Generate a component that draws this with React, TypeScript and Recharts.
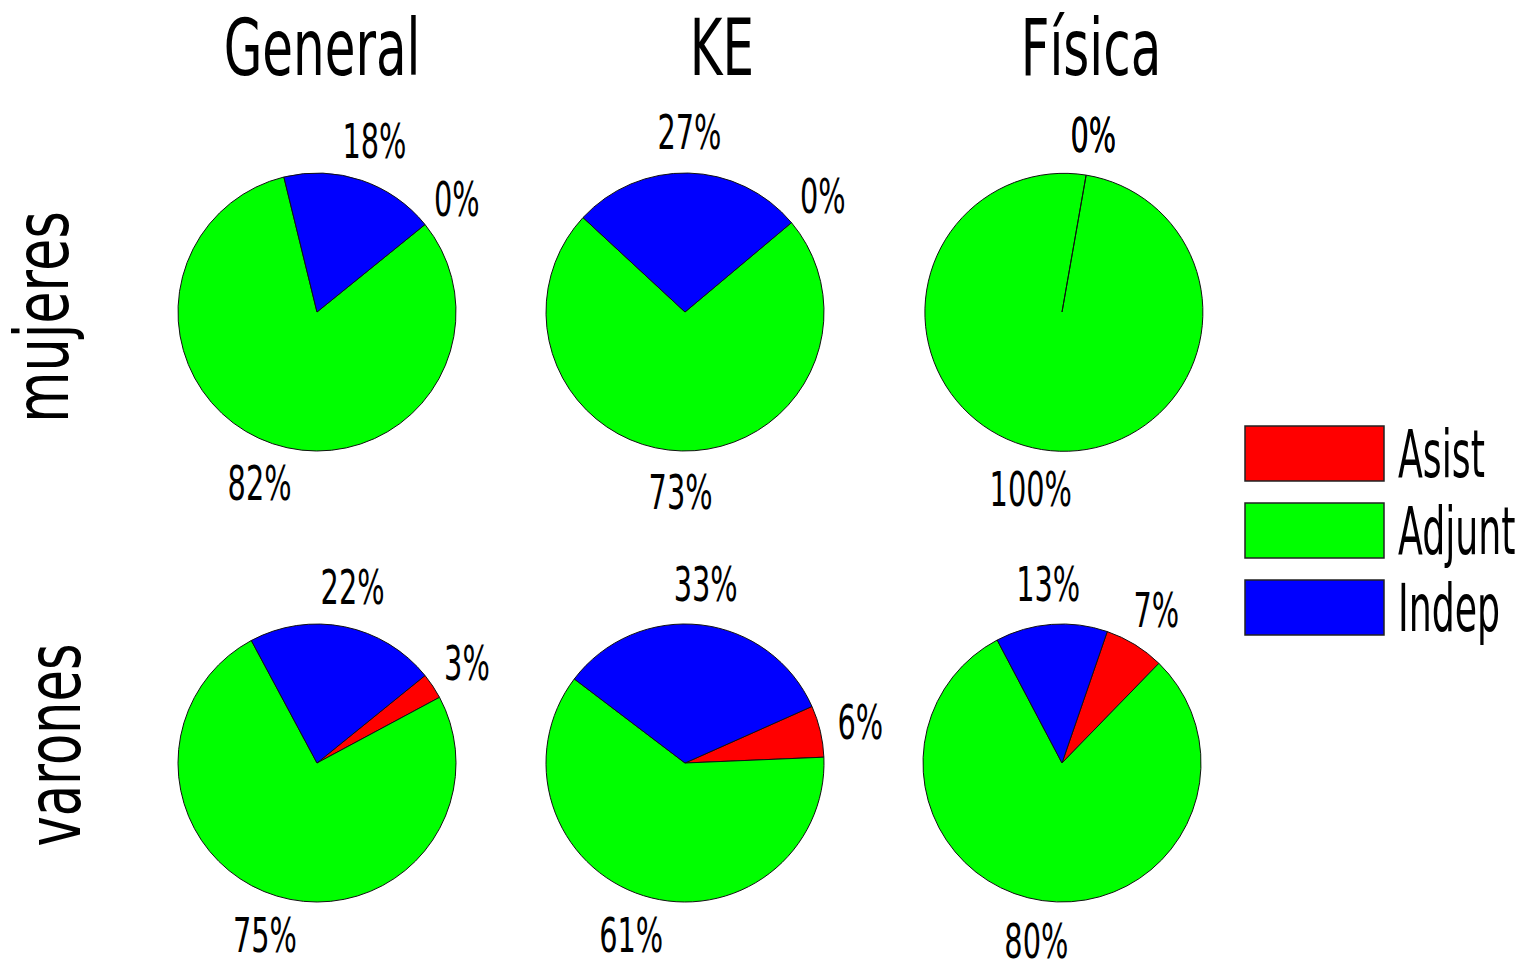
import React from "react"
import { Pie, PieChart, Cell } from "recharts"

const CATEGORIES = ["Asist", "Adjunt", "Indep"]
const COLORS = ["#FF0000", "#00FF00", "#0000FF"]
const GROUPS = ["General", "KE", "Física"]
const ROWS = ["mujeres", "varones"]

// percentages per group, in CATEGORIES order
const MUJERES = [
  [0, 82, 18],
  [0, 73, 27],
  [0, 100, 0],
]
const VARONES = [
  [3, 75, 22],
  [6, 61, 33],
  [7, 80, 13],
]

// where the first slice starts (degrees, slices go clockwise)
const START_MUJERES = [39, 40, 80]
const START_VARONES = [39, 24, 71]

const FONT = "'DejaVu Sans', sans-serif"
const SX = 0.62
const RAD = Math.PI / 180

const COL_X = [317, 685, 1062]
const ROW_Y = [312, 763]
const R = 139

function Narrow({
  x,
  y,
  size,
  sx = SX,
  rotate = 0,
  anchor = "middle",
  children,
}: {
  x: number
  y: number
  size: number
  sx?: number
  rotate?: number
  anchor?: "start" | "middle" | "end"
  children: React.ReactNode
}) {
  return (
    <text
      transform={`translate(${x},${y}) rotate(${rotate}) scale(${sx},1)`}
      textAnchor={anchor}
      fontFamily={FONT}
      fontSize={size}
      fill="#000"
    >
      {children}
    </text>
  )
}

function renderLabel(props: any) {
  const { cx, cy, midAngle, outerRadius, value } = props
  const r = outerRadius + 41
  const x = cx + r * Math.cos(-midAngle * RAD)
  const y = cy + r * Math.sin(-midAngle * RAD)
  return (
    <Narrow x={x} y={y + 17} size={48} sx={0.6}>
      {value}%
    </Narrow>
  )
}

const toData = (vals: number[]) => CATEGORIES.map((name, i) => ({ name, value: vals[i] }))

export default function App() {
  const rows = [MUJERES, VARONES]
  const starts = [START_MUJERES, START_VARONES]
  return (
    <div style={{ position: "absolute", left: 0, top: 0, width: 1520, height: 960, background: "#fff" }}>
      <PieChart width={1520} height={960} margin={{ top: 0, right: 0, bottom: 0, left: 0 }}>
        {rows.map((row, ri) =>
          row.map((vals, ci) => (
            <Pie
              key={`${ri}-${ci}`}
              data={toData(vals)}
              dataKey="value"
              cx={COL_X[ci]}
              cy={ROW_Y[ri]}
              outerRadius={R}
              startAngle={starts[ri][ci]}
              endAngle={starts[ri][ci] - 360}
              stroke="#111"
              strokeWidth={1}
              label={renderLabel}
              labelLine={false}
              isAnimationActive={false}
            >
              {CATEGORIES.map((c, i) => (
                <Cell key={c} fill={COLORS[i]} />
              ))}
            </Pie>
          ))
        )}
      </PieChart>

      <svg
        width={1520}
        height={960}
        style={{ position: "absolute", left: 0, top: 0, pointerEvents: "none" }}
      >
        <Narrow x={322} y={75} size={78} sx={0.64}>{GROUPS[0]}</Narrow>
        <Narrow x={722} y={75} size={78} sx={0.64}>{GROUPS[1]}</Narrow>
        <Narrow x={1091} y={75} size={78} sx={0.64}>{GROUPS[2]}</Narrow>

        <Narrow x={68} y={317} size={74} sx={0.71} rotate={-90}>{ROWS[0]}</Narrow>
        <Narrow x={80} y={745} size={74} sx={0.69} rotate={-90}>{ROWS[1]}</Narrow>

        {CATEGORIES.map((c, i) => (
          <g key={c}>
            <rect
              x={1245}
              y={426 + i * 77}
              width={139}
              height={55}
              fill={COLORS[i]}
              stroke="#222"
              strokeWidth={1.5}
            />
            <Narrow x={1398} y={477 + i * 77} size={66} sx={0.55} anchor="start">
              {c}
            </Narrow>
          </g>
        ))}
      </svg>
    </div>
  )
}
